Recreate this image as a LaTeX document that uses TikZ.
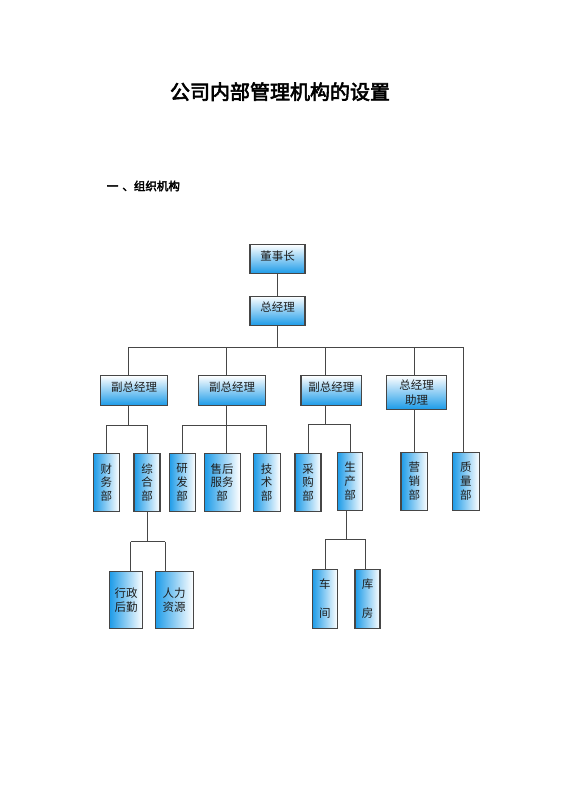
\documentclass[tikz,border=0pt]{standalone}
\usepackage{fontspec}
\newfontfamily\cjk{Noto Sans CJK SC}
\newfontfamily\cjkb{Noto Sans CJK SC}[FakeBold=3]
\definecolor{boxblue}{RGB}{28,155,232}
\definecolor{linegray}{RGB}{70,70,70}
\definecolor{txtgray}{RGB}{30,30,30}
\begin{document}
\begin{tikzpicture}[x=1pt,y=-1pt,
  hbox/.style={draw=linegray, line width=1.1pt, top color=white, bottom color=boxblue,
    inner sep=0pt, align=center, text=txtgray, font=\cjk\fontsize{11.5}{15}\selectfont},
  vbox/.style={draw=linegray, line width=1.1pt, left color=boxblue, right color=white,
    inner sep=0pt, align=center, text=txtgray, font=\cjk\fontsize{11.5}{13.6}\selectfont},
  lift/.style={text height=8pt, text depth=6pt},
  conn/.style={draw=linegray, line width=1pt}]
\useasboundingbox (0,0) rectangle (560,792);
\node[font=\cjkb\fontsize{20}{22}\selectfont] (title) at (280,91.7) {公司内部管理机构的设置};
\node[font=\cjkb\fontsize{11.5}{13}\selectfont, anchor=west, inner sep=0pt] (sub) at (106.7,186) {一\hspace{4pt}、组织机构};
% level 1-2
\node[hbox, lift, minimum width=55, minimum height=29] (dsz) at (277.5,259) {董事长};
\node[hbox, lift, minimum width=55, minimum height=29.3] (zjl) at (277.5,310.7) {总经理};
\node[hbox, lift, minimum width=67, minimum height=29.6] (f1) at (134.2,390.5) {副总经理};
\node[hbox, lift, minimum width=67.4, minimum height=29.6] (f2) at (232,390.5) {副总经理};
\node[hbox, lift, minimum width=60.7, minimum height=29.6] (f3) at (331.3,390.5) {副总经理};
\node[hbox, minimum width=60, minimum height=33.6] (zl) at (416.7,392.5) {总经理\\助理};
% level 3
\node[vbox, minimum width=26, minimum height=58.4] (cw) at (106.3,482.5) {财\\务\\部};
\node[vbox, minimum width=26, minimum height=58.4] (zh) at (147,482.5) {综\\合\\部};
\node[vbox, minimum width=26.3, minimum height=58.4] (yf) at (182.2,482.5) {研\\发\\部};
\node[vbox, minimum width=35.7, minimum height=58.4] (sh) at (222.2,482.5) {售后\\服务\\部};
\node[vbox, minimum width=26.7, minimum height=58.4] (js) at (266.7,482.5) {技\\术\\部};
\node[vbox, minimum width=26, minimum height=58.4] (cg) at (308,482.5) {采\\购\\部};
\node[vbox, minimum width=25.4, minimum height=57.7] (sc) at (350,481.2) {生\\产\\部};
\node[vbox, minimum width=26.7, minimum height=57.7] (yx) at (414.3,481.2) {营\\销\\部};
\node[vbox, minimum width=27, minimum height=57.7] (zlb) at (465.8,481.2) {质\\量\\部};
% level 4
\node[vbox, minimum width=33.4, minimum height=56.6] (xz) at (126,600) {行政\\后勤};
\node[vbox, minimum width=38.3, minimum height=56.6] (rl) at (174.2,600) {人力\\资源};
\node[vbox, minimum width=25, minimum height=59] (cj) at (324.8,598.8) {车\\[15pt]间};
\node[vbox, minimum width=25, minimum height=59] (kf) at (367.5,598.8) {库\\[15pt]房};
% connectors
\draw[conn] (dsz) -- (zjl);
\coordinate (bL) at (128.3,347.3);
\coordinate (b2) at (226.7,347.3);
\coordinate (b3) at (325.7,347.3);
\coordinate (b4) at (414,347.3);
\coordinate (bR) at (463.3,347.3);
\draw[conn] (zjl.south) -- (zjl.south |- bL);
\draw[conn] (bL) -- (bR);
\draw[conn] (bL) -- (bL |- f1.north);
\draw[conn] (b2) -- (b2 |- f2.north);
\draw[conn] (b3) -- (b3 |- f3.north);
\draw[conn] (b4) -- (b4 |- zl.north);
\draw[conn] (bR) -- (bR |- zlb.north);
% under f1
\coordinate (s1) at (128.3,425);
\draw[conn] (s1 |- f1.south) -- (s1);
\draw[conn] (cw.north |- s1) -- (zh.north |- s1);
\draw[conn] (cw.north |- s1) -- (cw.north);
\draw[conn] (zh.north |- s1) -- (zh.north);
% under f2
\coordinate (s2) at (226.7,425);
\draw[conn] (s2 |- f2.south) -- (s2 |- sh.north);
\draw[conn] (yf.north |- s2) -- (js.north |- s2);
\draw[conn] (yf.north |- s2) -- (yf.north);
\draw[conn] (js.north |- s2) -- (js.north);
% under f3
\coordinate (s3) at (325.7,424.3);
\draw[conn] (s3 |- f3.south) -- (s3);
\draw[conn] (cg.north |- s3) -- (sc.north |- s3);
\draw[conn] (cg.north |- s3) -- (cg.north);
\draw[conn] (sc.north |- s3) -- (sc.north);
% under zl
\draw[conn] (yx.north |- zl.south) -- (yx.north);
% under zh
\coordinate (t1) at (130.7,541.7);
\coordinate (t2) at (165,541.7);
\draw[conn] (zh.south) -- (zh.south |- t1);
\draw[conn] (t1) -- (t2);
\draw[conn] (t1) -- (t1 |- xz.north);
\draw[conn] (t2) -- (t2 |- rl.north);
% under sc
\coordinate (u0) at (346.7,539.3);
\coordinate (u1) at (325.7,539.3);
\coordinate (u2) at (365.7,539.3);
\draw[conn] (u0 |- sc.south) -- (u0);
\draw[conn] (u1) -- (u2);
\draw[conn] (u1) -- (u1 |- cj.north);
\draw[conn] (u2) -- (u2 |- kf.north);
\end{tikzpicture}
\end{document}
